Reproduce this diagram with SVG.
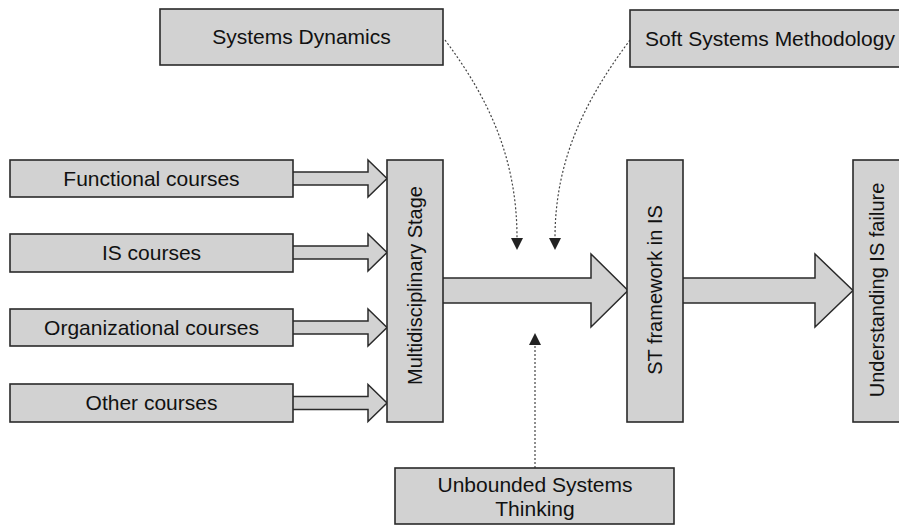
<svg xmlns="http://www.w3.org/2000/svg" width="899" height="526" viewBox="0 0 899 526">
<style>
.box{fill:#d2d2d2;stroke:#2a2a2a;stroke-width:1.6}
.blk{fill:#d2d2d2;stroke:#2a2a2a;stroke-width:1.5;stroke-linejoin:miter}
.t{font-family:"Liberation Sans",Arial,sans-serif;font-size:21px;fill:#111;text-anchor:middle}
.v{font-size:20px}
.dash{fill:none;stroke:#444;stroke-width:1.2;stroke-dasharray:2 2}
</style>
<g id="connectors">
<path class="blk" d="M293,172 L368,172 L368,160 L387,178.5 L368,197 L368,185 L293,185"/>
<path class="blk" d="M293,246 L368,246 L368,234 L387,252.5 L368,271 L368,259 L293,259"/>
<path class="blk" d="M293,321 L368,321 L368,309 L387,327.5 L368,346 L368,334 L293,334"/>
<path class="blk" d="M293,396.5 L368,396.5 L368,384.5 L387,403 L368,421.5 L368,409.5 L293,409.5"/>
<path class="blk" d="M443,278 L591,278 L591,254 L628,290.5 L591,327 L591,303 L443,303"/>
<path class="blk" d="M683,278 L815,278 L815,254 L853,290.5 L815,327 L815,303 L683,303"/>
<path class="dash" d="M445,40 C490,100 517,160 517,238"/>
<path d="M511,238 L523,238 L517,250 Z" fill="#222"/>
<path class="dash" d="M630,40 C585,100 555,160 555,238"/>
<path d="M549,238 L561,238 L555,250 Z" fill="#222"/>
<path class="dash" d="M535,468 L535,345"/>
<path d="M529,345 L541,345 L535,333 Z" fill="#222"/>
</g>
<g id="functional"><rect class="box" x="10" y="160" width="283" height="37"/><text class="t" x="151.5" y="186">Functional courses</text></g>
<g id="is"><rect class="box" x="10" y="234" width="283" height="38"/><text class="t" x="151.5" y="260">IS courses</text></g>
<g id="org"><rect class="box" x="10" y="309" width="283" height="37"/><text class="t" x="151.5" y="335">Organizational courses</text></g>
<g id="other"><rect class="box" x="10" y="384" width="283" height="38"/><text class="t" x="151.5" y="410">Other courses</text></g>
<g id="multi"><rect class="box" x="387" y="160" width="56" height="262"/><text class="t v" transform="translate(422,285.5) rotate(-90)">Multidisciplinary Stage</text></g>
<g id="st"><rect class="box" x="627" y="160" width="56" height="262"/><text class="t v" transform="translate(662,290) rotate(-90)">ST framework in IS</text></g>
<g id="understanding"><rect class="box" x="853" y="160" width="60" height="262"/><text class="t v" transform="translate(884,290) rotate(-90)">Understanding IS failure</text></g>
<g id="sd"><rect class="box" x="160" y="9" width="283" height="56"/><text class="t" x="301.5" y="44">Systems Dynamics</text></g>
<g id="ssm"><rect class="box" x="630" y="10" width="285" height="57"/><text class="t" x="770" y="46">Soft Systems Methodology</text></g>
<g id="ust"><rect class="box" x="395" y="468" width="279" height="56"/><text class="t" x="535" y="492">Unbounded Systems</text><text class="t" x="535" y="516">Thinking</text></g>
</svg>
